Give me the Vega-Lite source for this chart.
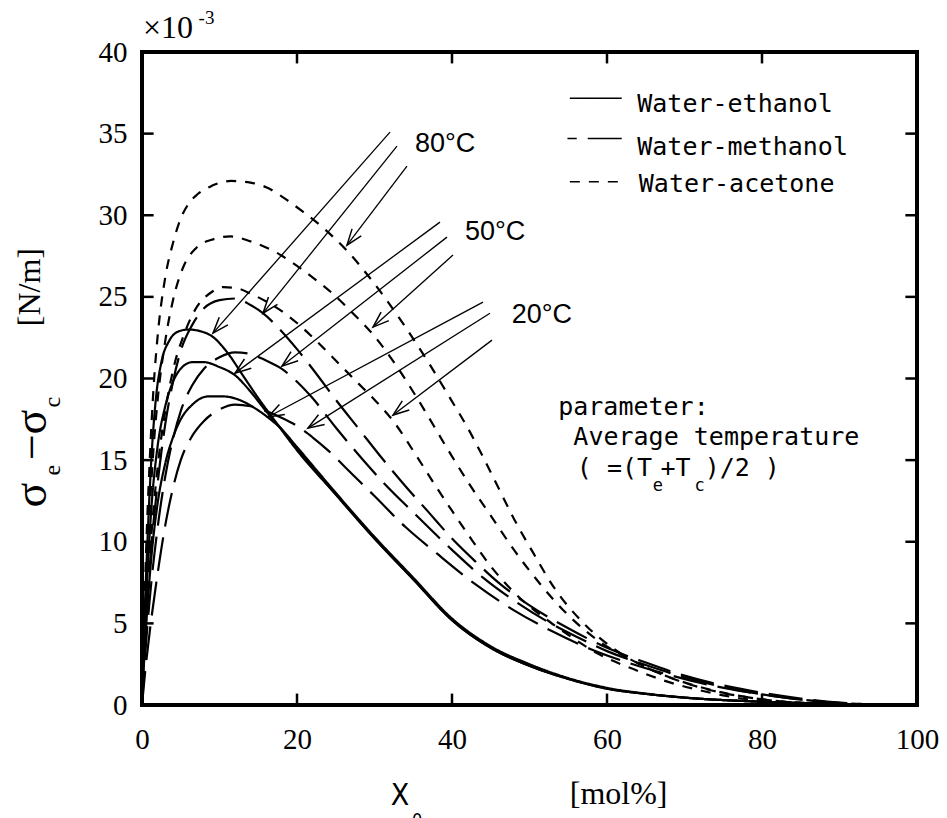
{
"$schema":"https://vega.github.io/schema/vega-lite/v6.json",
"width":775,"height":653,
"autosize":{"type":"none"},
"padding":{"left":142,"top":52,"right":30,"bottom":113},
"background":"white",
"config":{"view":{"stroke":"black","strokeWidth":4}},
"resolve":{"axis":{"x":"independent","y":"independent"}},
"datasets":{
"curves":[
{"s":"E","t":80,"x":0,"y":0},{"s":"E","t":80,"x":0.3,"y":5},{"s":"E","t":80,"x":0.7,"y":10},{"s":"E","t":80,"x":1.2,"y":15},{"s":"E","t":80,"x":1.8,"y":18.8},{"s":"E","t":80,"x":2.5,"y":21},{"s":"E","t":80,"x":3.5,"y":22.3},{"s":"E","t":80,"x":4.8,"y":22.9},{"s":"E","t":80,"x":6,"y":23.0},{"s":"E","t":80,"x":7.5,"y":22.9},{"s":"E","t":80,"x":9,"y":22.6},{"s":"E","t":80,"x":11,"y":21.6},{"s":"E","t":80,"x":13,"y":20.2},{"s":"E","t":80,"x":15,"y":18.8},{"s":"E","t":80,"x":17,"y":17.5},{"s":"E","t":80,"x":20,"y":15.6},{"s":"E","t":80,"x":25,"y":12.9},{"s":"E","t":80,"x":30,"y":10.2},{"s":"E","t":80,"x":35,"y":7.7},{"s":"E","t":80,"x":40,"y":5.2},{"s":"E","t":80,"x":45,"y":3.5},{"s":"E","t":80,"x":50,"y":2.4},{"s":"E","t":80,"x":55,"y":1.6},{"s":"E","t":80,"x":60,"y":1.0},{"s":"E","t":80,"x":65,"y":0.68},{"s":"E","t":80,"x":70,"y":0.45},{"s":"E","t":80,"x":80,"y":0.2},{"s":"E","t":80,"x":90,"y":0.07},{"s":"E","t":80,"x":100,"y":0},
{"s":"E","t":50,"x":0,"y":0},{"s":"E","t":50,"x":0.3,"y":4},{"s":"E","t":50,"x":0.7,"y":8},{"s":"E","t":50,"x":1.2,"y":12},{"s":"E","t":50,"x":2,"y":15.8},{"s":"E","t":50,"x":3,"y":18.3},{"s":"E","t":50,"x":4,"y":19.8},{"s":"E","t":50,"x":5,"y":20.6},{"s":"E","t":50,"x":6.5,"y":21.0},{"s":"E","t":50,"x":8,"y":21.0},{"s":"E","t":50,"x":10,"y":20.7},{"s":"E","t":50,"x":12,"y":20.2},{"s":"E","t":50,"x":14,"y":19.2},{"s":"E","t":50,"x":16,"y":18.0},{"s":"E","t":50,"x":18,"y":16.9},{"s":"E","t":50,"x":20,"y":15.7},{"s":"E","t":50,"x":25,"y":12.9},{"s":"E","t":50,"x":30,"y":10.2},{"s":"E","t":50,"x":35,"y":7.7},{"s":"E","t":50,"x":40,"y":5.2},{"s":"E","t":50,"x":45,"y":3.5},{"s":"E","t":50,"x":50,"y":2.4},{"s":"E","t":50,"x":55,"y":1.6},{"s":"E","t":50,"x":60,"y":1.0},{"s":"E","t":50,"x":65,"y":0.68},{"s":"E","t":50,"x":70,"y":0.45},{"s":"E","t":50,"x":80,"y":0.2},{"s":"E","t":50,"x":90,"y":0.07},{"s":"E","t":50,"x":100,"y":0},
{"s":"E","t":20,"x":0,"y":0},{"s":"E","t":20,"x":0.3,"y":3},{"s":"E","t":20,"x":0.7,"y":6},{"s":"E","t":20,"x":1.2,"y":9},{"s":"E","t":20,"x":2,"y":12.3},{"s":"E","t":20,"x":3,"y":14.8},{"s":"E","t":20,"x":4,"y":16.4},{"s":"E","t":20,"x":5,"y":17.5},{"s":"E","t":20,"x":6.5,"y":18.4},{"s":"E","t":20,"x":8.5,"y":18.9},{"s":"E","t":20,"x":10.5,"y":18.9},{"s":"E","t":20,"x":12.5,"y":18.7},{"s":"E","t":20,"x":14.5,"y":18.2},{"s":"E","t":20,"x":16.3,"y":17.6},{"s":"E","t":20,"x":18,"y":16.9},{"s":"E","t":20,"x":20,"y":15.8},{"s":"E","t":20,"x":25,"y":13.0},{"s":"E","t":20,"x":30,"y":10.3},{"s":"E","t":20,"x":35,"y":7.8},{"s":"E","t":20,"x":40,"y":5.3},{"s":"E","t":20,"x":45,"y":3.6},{"s":"E","t":20,"x":50,"y":2.5},{"s":"E","t":20,"x":55,"y":1.65},{"s":"E","t":20,"x":60,"y":1.05},{"s":"E","t":20,"x":65,"y":0.7},{"s":"E","t":20,"x":70,"y":0.46},{"s":"E","t":20,"x":80,"y":0.2},{"s":"E","t":20,"x":90,"y":0.07},{"s":"E","t":20,"x":100,"y":0},
{"s":"M","t":80,"x":0,"y":0},{"s":"M","t":80,"x":0.4,"y":4},{"s":"M","t":80,"x":1,"y":8.5},{"s":"M","t":80,"x":2,"y":13.5},{"s":"M","t":80,"x":3,"y":17.2},{"s":"M","t":80,"x":4,"y":19.8},{"s":"M","t":80,"x":5,"y":21.7},{"s":"M","t":80,"x":6.5,"y":23.3},{"s":"M","t":80,"x":8,"y":24.3},{"s":"M","t":80,"x":10,"y":24.8},{"s":"M","t":80,"x":12,"y":24.9},{"s":"M","t":80,"x":14,"y":24.5},{"s":"M","t":80,"x":15.6,"y":24.0},{"s":"M","t":80,"x":18,"y":22.9},{"s":"M","t":80,"x":20,"y":21.8},{"s":"M","t":80,"x":22,"y":20.6},{"s":"M","t":80,"x":25,"y":18.7},{"s":"M","t":80,"x":28,"y":16.9},{"s":"M","t":80,"x":31,"y":15.1},{"s":"M","t":80,"x":34,"y":13.4},{"s":"M","t":80,"x":37,"y":11.8},{"s":"M","t":80,"x":40,"y":10.2},{"s":"M","t":80,"x":43,"y":8.8},{"s":"M","t":80,"x":46,"y":7.5},{"s":"M","t":80,"x":50,"y":6.1},{"s":"M","t":80,"x":55,"y":4.7},{"s":"M","t":80,"x":60,"y":3.5},{"s":"M","t":80,"x":65,"y":2.6},{"s":"M","t":80,"x":70,"y":1.8},{"s":"M","t":80,"x":75,"y":1.2},{"s":"M","t":80,"x":80,"y":0.75},{"s":"M","t":80,"x":85,"y":0.4},{"s":"M","t":80,"x":90,"y":0.15},{"s":"M","t":80,"x":95,"y":0.03},{"s":"M","t":80,"x":100,"y":0},
{"s":"M","t":50,"x":0,"y":0},{"s":"M","t":50,"x":0.4,"y":3},{"s":"M","t":50,"x":1,"y":6.5},{"s":"M","t":50,"x":2,"y":10.8},{"s":"M","t":50,"x":3,"y":14},{"s":"M","t":50,"x":4,"y":16.3},{"s":"M","t":50,"x":5,"y":18},{"s":"M","t":50,"x":6.5,"y":19.6},{"s":"M","t":50,"x":8,"y":20.6},{"s":"M","t":50,"x":10,"y":21.3},{"s":"M","t":50,"x":12,"y":21.6},{"s":"M","t":50,"x":14,"y":21.5},{"s":"M","t":50,"x":16,"y":21.1},{"s":"M","t":50,"x":18,"y":20.6},{"s":"M","t":50,"x":20,"y":19.8},{"s":"M","t":50,"x":22,"y":18.8},{"s":"M","t":50,"x":25,"y":17.0},{"s":"M","t":50,"x":28,"y":15.3},{"s":"M","t":50,"x":31,"y":13.7},{"s":"M","t":50,"x":35,"y":11.8},{"s":"M","t":50,"x":40,"y":9.5},{"s":"M","t":50,"x":44,"y":7.8},{"s":"M","t":50,"x":48,"y":6.4},{"s":"M","t":50,"x":52,"y":5.2},{"s":"M","t":50,"x":56,"y":4.2},{"s":"M","t":50,"x":60,"y":3.3},{"s":"M","t":50,"x":65,"y":2.45},{"s":"M","t":50,"x":70,"y":1.7},{"s":"M","t":50,"x":75,"y":1.1},{"s":"M","t":50,"x":80,"y":0.65},{"s":"M","t":50,"x":85,"y":0.33},{"s":"M","t":50,"x":90,"y":0.12},{"s":"M","t":50,"x":95,"y":0.02},{"s":"M","t":50,"x":100,"y":0},
{"s":"M","t":20,"x":0,"y":0},{"s":"M","t":20,"x":0.4,"y":2},{"s":"M","t":20,"x":1,"y":4.5},{"s":"M","t":20,"x":2,"y":8},{"s":"M","t":20,"x":3,"y":11},{"s":"M","t":20,"x":4,"y":13.3},{"s":"M","t":20,"x":5,"y":15},{"s":"M","t":20,"x":6.5,"y":16.5},{"s":"M","t":20,"x":8,"y":17.4},{"s":"M","t":20,"x":10,"y":18.1},{"s":"M","t":20,"x":12,"y":18.4},{"s":"M","t":20,"x":14,"y":18.3},{"s":"M","t":20,"x":16,"y":18.0},{"s":"M","t":20,"x":18,"y":17.6},{"s":"M","t":20,"x":20,"y":17.1},{"s":"M","t":20,"x":22,"y":16.4},{"s":"M","t":20,"x":24,"y":15.6},{"s":"M","t":20,"x":27,"y":14.2},{"s":"M","t":20,"x":30,"y":12.8},{"s":"M","t":20,"x":34,"y":10.9},{"s":"M","t":20,"x":38,"y":9.3},{"s":"M","t":20,"x":43,"y":7.4},{"s":"M","t":20,"x":48,"y":5.8},{"s":"M","t":20,"x":53,"y":4.5},{"s":"M","t":20,"x":58,"y":3.4},{"s":"M","t":20,"x":63,"y":2.55},{"s":"M","t":20,"x":68,"y":1.85},{"s":"M","t":20,"x":73,"y":1.25},{"s":"M","t":20,"x":78,"y":0.8},{"s":"M","t":20,"x":83,"y":0.45},{"s":"M","t":20,"x":88,"y":0.2},{"s":"M","t":20,"x":93,"y":0.06},{"s":"M","t":20,"x":100,"y":0},
{"s":"A","t":80,"x":0,"y":0},{"s":"A","t":80,"x":0.5,"y":9},{"s":"A","t":80,"x":1,"y":15},{"s":"A","t":80,"x":1.5,"y":19.5},{"s":"A","t":80,"x":2,"y":22.5},{"s":"A","t":80,"x":3,"y":26.2},{"s":"A","t":80,"x":4,"y":28.3},{"s":"A","t":80,"x":5,"y":29.8},{"s":"A","t":80,"x":6,"y":30.7},{"s":"A","t":80,"x":7.2,"y":31.3},{"s":"A","t":80,"x":9,"y":31.8},{"s":"A","t":80,"x":11.5,"y":32.1},{"s":"A","t":80,"x":14,"y":32.0},{"s":"A","t":80,"x":16.1,"y":31.7},{"s":"A","t":80,"x":18.5,"y":31.0},{"s":"A","t":80,"x":20.8,"y":30.2},{"s":"A","t":80,"x":23.2,"y":29.3},{"s":"A","t":80,"x":26.5,"y":27.8},{"s":"A","t":80,"x":30,"y":25.8},{"s":"A","t":80,"x":34.2,"y":23.0},{"s":"A","t":80,"x":37.2,"y":20.8},{"s":"A","t":80,"x":40,"y":18.6},{"s":"A","t":80,"x":42,"y":17.0},{"s":"A","t":80,"x":44,"y":15.2},{"s":"A","t":80,"x":46.2,"y":13.1},{"s":"A","t":80,"x":48,"y":11.4},{"s":"A","t":80,"x":50.5,"y":9.3},{"s":"A","t":80,"x":53.3,"y":7.1},{"s":"A","t":80,"x":57,"y":5.0},{"s":"A","t":80,"x":61,"y":3.4},{"s":"A","t":80,"x":66,"y":2.1},{"s":"A","t":80,"x":72,"y":1.1},{"s":"A","t":80,"x":80,"y":0.35},{"s":"A","t":80,"x":88,"y":0.08},{"s":"A","t":80,"x":100,"y":0},
{"s":"A","t":50,"x":0,"y":0},{"s":"A","t":50,"x":0.5,"y":7},{"s":"A","t":50,"x":1,"y":12},{"s":"A","t":50,"x":1.5,"y":15.8},{"s":"A","t":50,"x":2,"y":18.6},{"s":"A","t":50,"x":3,"y":22.3},{"s":"A","t":50,"x":4,"y":24.8},{"s":"A","t":50,"x":5.3,"y":26.8},{"s":"A","t":50,"x":7,"y":28.0},{"s":"A","t":50,"x":9,"y":28.5},{"s":"A","t":50,"x":11.4,"y":28.7},{"s":"A","t":50,"x":14,"y":28.4},{"s":"A","t":50,"x":17.4,"y":27.7},{"s":"A","t":50,"x":20,"y":26.9},{"s":"A","t":50,"x":22,"y":26.2},{"s":"A","t":50,"x":24.6,"y":25.2},{"s":"A","t":50,"x":27.2,"y":24.0},{"s":"A","t":50,"x":29.8,"y":22.7},{"s":"A","t":50,"x":32.5,"y":21.0},{"s":"A","t":50,"x":35.5,"y":18.8},{"s":"A","t":50,"x":39.4,"y":15.7},{"s":"A","t":50,"x":42,"y":13.7},{"s":"A","t":50,"x":45,"y":11.6},{"s":"A","t":50,"x":48,"y":9.5},{"s":"A","t":50,"x":51.4,"y":7.4},{"s":"A","t":50,"x":55,"y":5.5},{"s":"A","t":50,"x":59,"y":3.9},{"s":"A","t":50,"x":63,"y":2.8},{"s":"A","t":50,"x":68,"y":1.7},{"s":"A","t":50,"x":73,"y":0.95},{"s":"A","t":50,"x":80,"y":0.35},{"s":"A","t":50,"x":87,"y":0.08},{"s":"A","t":50,"x":100,"y":0},
{"s":"A","t":20,"x":0,"y":0},{"s":"A","t":20,"x":0.5,"y":5},{"s":"A","t":20,"x":1,"y":9},{"s":"A","t":20,"x":2,"y":14.5},{"s":"A","t":20,"x":3,"y":18},{"s":"A","t":20,"x":4,"y":20.5},{"s":"A","t":20,"x":5.5,"y":22.8},{"s":"A","t":20,"x":7.1,"y":24.4},{"s":"A","t":20,"x":9,"y":25.3},{"s":"A","t":20,"x":10.5,"y":25.6},{"s":"A","t":20,"x":12.5,"y":25.5},{"s":"A","t":20,"x":14,"y":25.2},{"s":"A","t":20,"x":17.8,"y":24.2},{"s":"A","t":20,"x":20,"y":23.4},{"s":"A","t":20,"x":22.5,"y":22.3},{"s":"A","t":20,"x":25,"y":21.1},{"s":"A","t":20,"x":27.7,"y":19.8},{"s":"A","t":20,"x":30,"y":18.7},{"s":"A","t":20,"x":32.4,"y":17.4},{"s":"A","t":20,"x":35.5,"y":15.2},{"s":"A","t":20,"x":37.5,"y":13.7},{"s":"A","t":20,"x":40,"y":11.9},{"s":"A","t":20,"x":42,"y":10.5},{"s":"A","t":20,"x":45,"y":8.5},{"s":"A","t":20,"x":48,"y":6.9},{"s":"A","t":20,"x":52.6,"y":5.1},{"s":"A","t":20,"x":55,"y":4.3},{"s":"A","t":20,"x":59,"y":3.1},{"s":"A","t":20,"x":63.4,"y":2.2},{"s":"A","t":20,"x":68,"y":1.4},{"s":"A","t":20,"x":72,"y":0.9},{"s":"A","t":20,"x":76,"y":0.5},{"s":"A","t":20,"x":80,"y":0.25},{"s":"A","t":20,"x":86,"y":0.06},{"s":"A","t":20,"x":100,"y":0}
],
"tickmarks":[
{"x":20,"y":0,"x2":20,"y2":0.7},{"x":40,"y":0,"x2":40,"y2":0.7},{"x":60,"y":0,"x2":60,"y2":0.7},{"x":80,"y":0,"x2":80,"y2":0.7},
{"x":20,"y":40,"x2":20,"y2":39.3},{"x":40,"y":40,"x2":40,"y2":39.3},{"x":60,"y":40,"x2":60,"y2":39.3},{"x":80,"y":40,"x2":80,"y2":39.3},
{"x":0,"y":5,"x2":1.5,"y2":5},{"x":0,"y":10,"x2":1.5,"y2":10},{"x":0,"y":15,"x2":1.5,"y2":15},{"x":0,"y":20,"x2":1.5,"y2":20},{"x":0,"y":25,"x2":1.5,"y2":25},{"x":0,"y":30,"x2":1.5,"y2":30},{"x":0,"y":35,"x2":1.5,"y2":35},
{"x":100,"y":5,"x2":98.5,"y2":5},{"x":100,"y":10,"x2":98.5,"y2":10},{"x":100,"y":15,"x2":98.5,"y2":15},{"x":100,"y":20,"x2":98.5,"y2":20},{"x":100,"y":25,"x2":98.5,"y2":25},{"x":100,"y":30,"x2":98.5,"y2":30},{"x":100,"y":35,"x2":98.5,"y2":35}
],
"arrows":[
{"x":32.0,"y":35.09,"x2":9.16,"y2":22.78,"a":-48.6},
{"x":32.9,"y":34.23,"x2":15.61,"y2":24.0,"a":-51.3},
{"x":34.19,"y":33.01,"x2":26.45,"y2":28.17,"a":-52.8},
{"x":38.45,"y":29.58,"x2":12.0,"y2":20.33,"a":-36.4},
{"x":39.35,"y":28.66,"x2":18.06,"y2":20.76,"a":-38.0},
{"x":40.13,"y":27.56,"x2":29.81,"y2":23.15,"a":-42.0},
{"x":44.0,"y":24.68,"x2":16.26,"y2":17.64,"a":-28.1},
{"x":44.9,"y":24.0,"x2":21.42,"y2":16.96,"a":-32.3},
{"x":45.16,"y":22.35,"x2":32.39,"y2":17.76,"a":-37.1}
],
"legend":[
{"s":"E","lab":"Water-ethanol","x1":61.9,"x2":55.2,"ly":37.17,"tx":63.9,"ty":36.31},
{"s":"M","lab":"Water-methanol","x1":61.9,"x2":54.9,"ly":34.70,"tx":63.9,"ty":33.68},
{"s":"A","lab":"Water-acetone","x1":61.4,"x2":55.2,"ly":32.05,"tx":64.1,"ty":31.41}
]
},
"layer":[
{"data":{"name":"curves"},
 "mark":{"type":"line","color":"black","strokeWidth":2.2,"interpolate":"monotone","clip":true},
 "encoding":{
  "x":{"field":"x","type":"quantitative","scale":{"domain":[0,100],"nice":false,"zero":false},
   "axis":{"orient":"bottom","values":[0,20,40,60,80,100],"title":null,"domain":false,"grid":false,"ticks":false,"labelFont":"Liberation Serif","labelFontSize":29,"labelColor":"black","labelPadding":20,"labelFlush":false,"labelOverlap":false}},
  "y":{"field":"y","type":"quantitative","scale":{"domain":[0,40],"nice":false,"zero":false},
   "axis":{"orient":"left","values":[0,5,10,15,20,25,30,35,40],"title":null,"domain":false,"grid":false,"ticks":false,"labelFont":"Liberation Serif","labelFontSize":29,"labelColor":"black","labelPadding":15,"labelFlush":false,"labelOverlap":false}},
  "strokeDash":{"field":"s","type":"nominal","scale":{"domain":["E","M","A"],"range":[[1,0],[34,11],[10,9]]},"legend":null},
  "detail":{"field":"t"}
 }},
{"data":{"name":"tickmarks"},
 "mark":{"type":"rule","color":"black","strokeWidth":2.5,"strokeCap":"butt"},
 "encoding":{
  "x":{"field":"x","type":"quantitative","scale":{"domain":[0,100],"nice":false,"zero":false},"axis":null},
  "y":{"field":"y","type":"quantitative","scale":{"domain":[0,40],"nice":false,"zero":false},"axis":null},
  "x2":{"field":"x2"},"y2":{"field":"y2"}
 }},
{"data":{"name":"arrows"},
 "mark":{"type":"rule","color":"black","strokeWidth":1.3},
 "encoding":{
  "x":{"field":"x","type":"quantitative","scale":{"domain":[0,100],"nice":false,"zero":false},"axis":null},
  "y":{"field":"y","type":"quantitative","scale":{"domain":[0,40],"nice":false,"zero":false},"axis":null},
  "x2":{"field":"x2"},"y2":{"field":"y2"}
 }},
{"data":{"name":"arrows"},
 "mark":{"type":"point","shape":"M1,-0.36 L0,0 L1,0.36","filled":false,"stroke":"black","strokeWidth":1.5,"opacity":1,"size":1024},
 "encoding":{
  "x":{"field":"x2","type":"quantitative","scale":{"domain":[0,100],"nice":false,"zero":false},"axis":null},
  "y":{"field":"y2","type":"quantitative","scale":{"domain":[0,40],"nice":false,"zero":false},"axis":null},
  "angle":{"field":"a","type":"quantitative","scale":null}
 }},
{"data":{"values":[{"x":35.23,"y":33.86,"t":"80°C"},{"x":41.68,"y":28.47,"t":"50°C"},{"x":47.7,"y":23.37,"t":"20°C"}]},
 "mark":{"type":"text","font":"Liberation Sans","fontSize":27,"align":"left","baseline":"alphabetic","color":"black"},
 "encoding":{
  "x":{"field":"x","type":"quantitative","scale":{"domain":[0,100],"nice":false,"zero":false},"axis":null},
  "y":{"field":"y","type":"quantitative","scale":{"domain":[0,40],"nice":false,"zero":false},"axis":null},
  "text":{"field":"t"}
 }},
{"data":{"name":"legend"},
 "mark":{"type":"rule","color":"black","strokeWidth":1.5},
 "encoding":{
  "x":{"field":"x1","type":"quantitative","scale":{"domain":[0,100],"nice":false,"zero":false},"axis":null},
  "x2":{"field":"x2"},
  "y":{"field":"ly","type":"quantitative","scale":{"domain":[0,40],"nice":false,"zero":false},"axis":null},
  "strokeDash":{"field":"s","type":"nominal","legend":null}
 }},
{"data":{"name":"legend"},
 "mark":{"type":"text","font":"DejaVu Sans Mono","fontSize":25,"align":"left","baseline":"alphabetic","color":"black"},
 "encoding":{
  "x":{"field":"tx","type":"quantitative","scale":{"domain":[0,100],"nice":false,"zero":false},"axis":null},
  "y":{"field":"ty","type":"quantitative","scale":{"domain":[0,40],"nice":false,"zero":false},"axis":null},
  "text":{"field":"lab"}
 }},
{"data":{"values":[{"x":53.7,"y":17.76,"t":"parameter:"},{"x":55.66,"y":15.92,"t":"Average temperature"},{"x":56.1,"y":14.0,"t":"( =(T"},{"x":66.9,"y":14.0,"t":"+T"},{"x":72.6,"y":14.0,"t":")/2 )"}]},
 "mark":{"type":"text","font":"DejaVu Sans Mono","fontSize":25,"align":"left","baseline":"alphabetic","color":"black"},
 "encoding":{
  "x":{"field":"x","type":"quantitative","scale":{"domain":[0,100],"nice":false,"zero":false},"axis":null},
  "y":{"field":"y","type":"quantitative","scale":{"domain":[0,40],"nice":false,"zero":false},"axis":null},
  "text":{"field":"t"}
 }},
{"data":{"values":[{"x":65.9,"y":13.1,"t":"e"},{"x":71.3,"y":13.1,"t":"c"}]},
 "mark":{"type":"text","font":"DejaVu Sans Mono","fontSize":17,"align":"left","baseline":"alphabetic","color":"black"},
 "encoding":{
  "x":{"field":"x","type":"quantitative","scale":{"domain":[0,100],"nice":false,"zero":false},"axis":null},
  "y":{"field":"y","type":"quantitative","scale":{"domain":[0,40],"nice":false,"zero":false},"axis":null},
  "text":{"field":"t"}
 }},
{"data":{"values":[{"x":-14.19,"y":12.86,"t":"σ"},{"x":-14.06,"y":15.80,"t":"−"},{"x":-14.19,"y":17.33,"t":"σ"}]},
 "mark":{"type":"text","font":"Liberation Serif","fontSize":46,"align":"center","baseline":"middle","angle":270,"color":"black"},
 "encoding":{
  "x":{"field":"x","type":"quantitative","scale":{"domain":[0,100],"nice":false,"zero":false},"axis":null},
  "y":{"field":"y","type":"quantitative","scale":{"domain":[0,40],"nice":false,"zero":false},"axis":null},
  "text":{"field":"t"}
 }},
{"data":{"values":[{"x":-11.48,"y":14.39,"t":"e"},{"x":-11.48,"y":18.55,"t":"c"}]},
 "mark":{"type":"text","font":"Liberation Serif","fontSize":24,"align":"center","baseline":"middle","angle":270,"color":"black"},
 "encoding":{
  "x":{"field":"x","type":"quantitative","scale":{"domain":[0,100],"nice":false,"zero":false},"axis":null},
  "y":{"field":"y","type":"quantitative","scale":{"domain":[0,40],"nice":false,"zero":false},"axis":null},
  "text":{"field":"t"}
 }},
{"data":{"values":[{"x":-14.45,"y":25.6,"t":"[N/m]"}]},
 "mark":{"type":"text","font":"Liberation Serif","fontSize":32,"align":"center","baseline":"middle","angle":270,"color":"black"},
 "encoding":{
  "x":{"field":"x","type":"quantitative","scale":{"domain":[0,100],"nice":false,"zero":false},"axis":null},
  "y":{"field":"y","type":"quantitative","scale":{"domain":[0,40],"nice":false,"zero":false},"axis":null},
  "text":{"field":"t"}
 }},
{"data":{"values":[{"x":33.3,"y":-5.57,"t":"X"}]},
 "mark":{"type":"text","font":"Liberation Sans Narrow, DejaVu Sans Condensed, Liberation Sans","fontSize":30,"align":"center","baseline":"middle","color":"black"},
 "encoding":{
  "x":{"field":"x","type":"quantitative","scale":{"domain":[0,100],"nice":false,"zero":false},"axis":null},
  "y":{"field":"y","type":"quantitative","scale":{"domain":[0,40],"nice":false,"zero":false},"axis":null},
  "text":{"field":"t"}
 }},
{"data":{"values":[{"x":35.5,"y":-7.1,"t":"0"}]},
 "mark":{"type":"text","font":"Liberation Sans Narrow, DejaVu Sans Condensed, Liberation Sans","fontSize":18,"align":"center","baseline":"middle","color":"black"},
 "encoding":{
  "x":{"field":"x","type":"quantitative","scale":{"domain":[0,100],"nice":false,"zero":false},"axis":null},
  "y":{"field":"y","type":"quantitative","scale":{"domain":[0,40],"nice":false,"zero":false},"axis":null},
  "text":{"field":"t"}
 }},
{"data":{"values":[{"x":61.5,"y":-5.45,"t":"[mol%]"}]},
 "mark":{"type":"text","font":"Liberation Serif","fontSize":32,"align":"center","baseline":"middle","color":"black"},
 "encoding":{
  "x":{"field":"x","type":"quantitative","scale":{"domain":[0,100],"nice":false,"zero":false},"axis":null},
  "y":{"field":"y","type":"quantitative","scale":{"domain":[0,40],"nice":false,"zero":false},"axis":null},
  "text":{"field":"t"}
 }},
{"data":{"values":[{"x":0.13,"y":40.84,"t":"×10"}]},
 "mark":{"type":"text","font":"Liberation Serif","fontSize":32,"align":"left","baseline":"alphabetic","color":"black"},
 "encoding":{
  "x":{"field":"x","type":"quantitative","scale":{"domain":[0,100],"nice":false,"zero":false},"axis":null},
  "y":{"field":"y","type":"quantitative","scale":{"domain":[0,40],"nice":false,"zero":false},"axis":null},
  "text":{"field":"t"}
 }},
{"data":{"values":[{"x":7.3,"y":41.7,"t":"-3"}]},
 "mark":{"type":"text","font":"Liberation Serif","fontSize":19,"align":"left","baseline":"alphabetic","color":"black"},
 "encoding":{
  "x":{"field":"x","type":"quantitative","scale":{"domain":[0,100],"nice":false,"zero":false},"axis":null},
  "y":{"field":"y","type":"quantitative","scale":{"domain":[0,40],"nice":false,"zero":false},"axis":null},
  "text":{"field":"t"}
 }}
]
}
